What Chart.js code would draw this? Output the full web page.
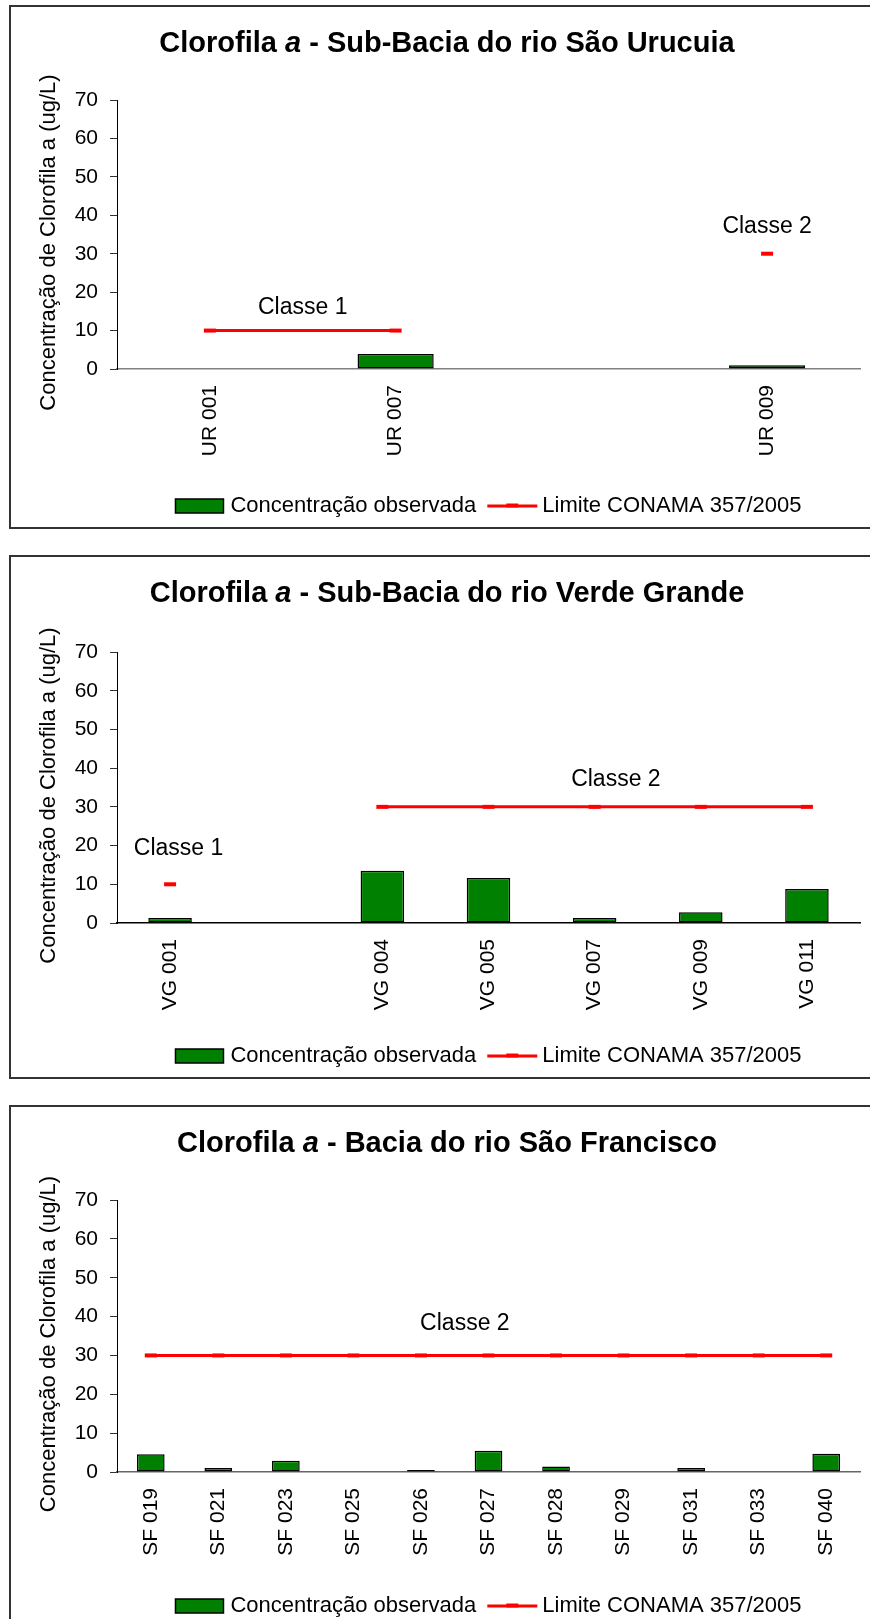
<!DOCTYPE html>
<html>
<head>
    <title>Clorofila a - Sub-Bacias</title>
    <meta charset="UTF-8">
    <style>
        html, body {
            margin: 0;
            padding: 0;
            background: #fff;
            overflow: hidden;
        }
        body {
            width: 870px;
            height: 1619px;
            position: relative;
        }
        .box {
            position: absolute;
            left: 9px;
            width: 900px;
            height: 520px;
            border: 2px solid #333;
            background: #fff;
        }
        .box canvas {
            position: absolute;
            left: 0;
            top: 0;
            width: 859px;
            height: 520px;
        }
    </style>
</head>
<body>
    <div class="box" style="top:5px"><canvas id="chartUR" width="859" height="520"></canvas></div>
    <div class="box" style="top:555px"><canvas id="chartVG" width="859" height="520"></canvas></div>
    <div class="box" style="top:1105px"><canvas id="chartSF" width="859" height="520"></canvas></div>

    <script src="https://cdn.jsdelivr.net/npm/chart.js"></script>

    <script>
        // Series names shared by the three charts
        const seriesNames = ['Concentração observada', 'Limite CONAMA 357/2005'];
        const yAxisTitle = 'Concentração de Clorofila a (ug/L)';
        const yMax = 70;
        const yStep = 10;

        // Sub-Bacia do rio São Urucuia
        const urTitle = ['Clorofila ', 'a', ' - Sub-Bacia do rio São Urucuia'];
        const urLabels = ['UR 001', 'UR 007', '', 'UR 009'];
        const urConc = [null, 3.9, null, 1.0];
        const urLimit = [10, 10, null, 30];
        const urNotes = [
            { text: 'Classe 1', at: 0.5, value: 16.4 },
            { text: 'Classe 2', at: 3, value: 37.5 }
        ];

        // Sub-Bacia do rio Verde Grande
        const vgTitle = ['Clorofila ', 'a', ' - Sub-Bacia do rio Verde Grande'];
        const vgLabels = ['VG 001', '', 'VG 004', 'VG 005', 'VG 007', 'VG 009', 'VG 011'];
        const vgConc = [1.3, null, 13.5, 11.6, 1.3, 2.8, 8.8];
        const vgLimit = [10, null, 30, 30, 30, 30, 30];
        const vgNotes = [
            { text: 'Classe 1', at: 0.08, value: 19.7 },
            { text: 'Classe 2', at: 4.2, value: 37.5 }
        ];

        // Bacia do rio São Francisco
        const sfTitle = ['Clorofila ', 'a', ' - Bacia do rio São Francisco'];
        const sfLabels = ['SF 019', 'SF 021', 'SF 023', 'SF 025', 'SF 026', 'SF 027', 'SF 028', 'SF 029', 'SF 031', 'SF 033', 'SF 040'];
        const sfConc = [4.6, 1.0, 2.9, null, 0.5, 5.5, 1.4, null, 1.0, null, 4.7];
        const sfLimit = [30, 30, 30, 30, 30, 30, 30, 30, 30, 30, 30];
        const sfNotes = [
            { text: 'Classe 2', at: 4.65, value: 38.5 }
        ];

        const FAMILY = "'Liberation Sans', Arial, Helvetica, sans-serif";
        Chart.defaults.font.family = FAMILY;
        Chart.defaults.color = '#000';

        const CANVAS_W = 859;
        const CANVAS_H = 520;

        // draws title, axis title, "Classe" notes and legend
        const decor = {
            id: 'decor',
            afterDraw(chart, args, o) {
                const ctx = chart.ctx;
                const x = chart.scales.x;
                const y = chart.scales.y;
                const area = chart.chartArea;
                ctx.save();
                ctx.fillStyle = '#000';
                ctx.textBaseline = 'alphabetic';
                ctx.textAlign = 'left';

                // title with italic "a"
                const fonts = ['bold 29px ' + FAMILY, 'italic bold 29px ' + FAMILY, 'bold 29px ' + FAMILY];
                let w = 0;
                o.title.forEach((t, i) => {
                    ctx.font = fonts[i];
                    w += ctx.measureText(t).width;
                });
                let tx = 436 - w / 2;
                o.title.forEach((t, i) => {
                    ctx.font = fonts[i];
                    ctx.fillText(t, tx, 45);
                    tx += ctx.measureText(t).width;
                });

                // y axis title
                ctx.save();
                ctx.font = '22px ' + FAMILY;
                ctx.textAlign = 'center';
                ctx.translate(44, (area.top + area.bottom) / 2 + 8);
                ctx.rotate(-Math.PI / 2);
                ctx.fillText(yAxisTitle, 0, 0);
                ctx.restore();

                // class notes
                ctx.font = '23px ' + FAMILY;
                ctx.textAlign = 'center';
                o.notes.forEach(n => {
                    ctx.fillText(n.text, x.getPixelForValue(n.at), y.getPixelForValue(n.value) + 8);
                });

                // legend
                const bar = chart.data.datasets[1];
                const line = chart.data.datasets[0];
                ctx.font = '22px ' + FAMILY;
                ctx.textAlign = 'left';
                const w1 = ctx.measureText(bar.label).width;
                const w2 = ctx.measureText(line.label).width;
                const total = 48 + 7 + w1 + 11 + 50 + 5 + w2;
                let lx = (area.left + area.right) / 2 - total / 2;
                const ly = 499;
                ctx.fillStyle = bar.backgroundColor;
                ctx.fillRect(lx, ly - 7, 48, 14);
                ctx.strokeStyle = '#000';
                ctx.lineWidth = 1.5;
                ctx.strokeRect(lx, ly - 7, 48, 14);
                lx += 55;
                ctx.fillStyle = '#000';
                ctx.fillText(bar.label, lx, ly + 6);
                lx += w1 + 11;
                ctx.strokeStyle = line.borderColor;
                ctx.lineWidth = 3;
                ctx.beginPath();
                ctx.moveTo(lx, ly);
                ctx.lineTo(lx + 50, ly);
                ctx.stroke();
                ctx.lineWidth = 4;
                ctx.beginPath();
                ctx.moveTo(lx + 19, ly - 0.5);
                ctx.lineTo(lx + 31, ly - 0.5);
                ctx.stroke();
                lx += 55;
                ctx.fillText(line.label, lx, ly + 6);

                ctx.restore();
            }
        };

        function makeChart(id, labels, conc, limit, title, notes, plotTop, plotBottom, xAxisColor) {
            const plotLeft = 106;
            const plotRight = 855;
            return new Chart(document.getElementById(id), {
                data: {
                    labels: labels,
                    datasets: [
                        {
                            type: 'line',
                            label: seriesNames[1],
                            data: limit,
                            borderColor: '#ff0000',
                            borderWidth: 3,
                            pointStyle: 'line',
                            pointRadius: 6,
                            pointBorderWidth: 4,
                            pointBorderColor: '#ff0000',
                            pointBackgroundColor: '#ff0000',
                            fill: false,
                            tension: 0,
                            order: 0
                        },
                        {
                            type: 'bar',
                            label: seriesNames[0],
                            data: conc,
                            backgroundColor: '#008000',
                            borderColor: '#000',
                            borderWidth: 1.5,
                            borderSkipped: false,
                            barPercentage: 0.41,
                            categoryPercentage: 1,
                            order: 1
                        }
                    ]
                },
                options: {
                    responsive: false,
                    animation: false,
                    layout: {
                        padding: { top: plotTop, right: CANVAS_W - plotRight, left: 0, bottom: 0 }
                    },
                    plugins: {
                        legend: { display: false },
                        tooltip: { enabled: false },
                        title: { display: false },
                        decor: { title: title, notes: notes }
                    },
                    scales: {
                        x: {
                            type: 'category',
                            offset: true,
                            grid: { display: false, drawTicks: false },
                            border: { color: xAxisColor, width: 1.5 },
                            ticks: {
                                minRotation: 90,
                                maxRotation: 90,
                                autoSkip: false,
                                padding: 16,
                                color: '#000',
                                font: { size: 21 }
                            },
                            afterFit: s => { s.height = CANVAS_H - plotBottom; }
                        },
                        y: {
                            min: 0,
                            max: yMax,
                            ticks: {
                                stepSize: yStep,
                                padding: 12,
                                color: '#000',
                                font: { size: 21 }
                            },
                            grid: { drawOnChartArea: false, drawTicks: true, tickLength: 7, color: '#333' },
                            border: { color: '#000', width: 1 },
                            afterFit: s => { s.width = plotLeft; }
                        }
                    }
                },
                plugins: [decor]
            });
        }

        makeChart('chartUR', urLabels, urConc, urLimit, urTitle, urNotes, 93, 362, '#808080');
        makeChart('chartVG', vgLabels, vgConc, vgLimit, vgTitle, vgNotes, 95, 366, '#000');
        makeChart('chartSF', sfLabels, sfConc, sfLimit, sfTitle, sfNotes, 93, 365, '#666');
    </script>
</body>
</html>
